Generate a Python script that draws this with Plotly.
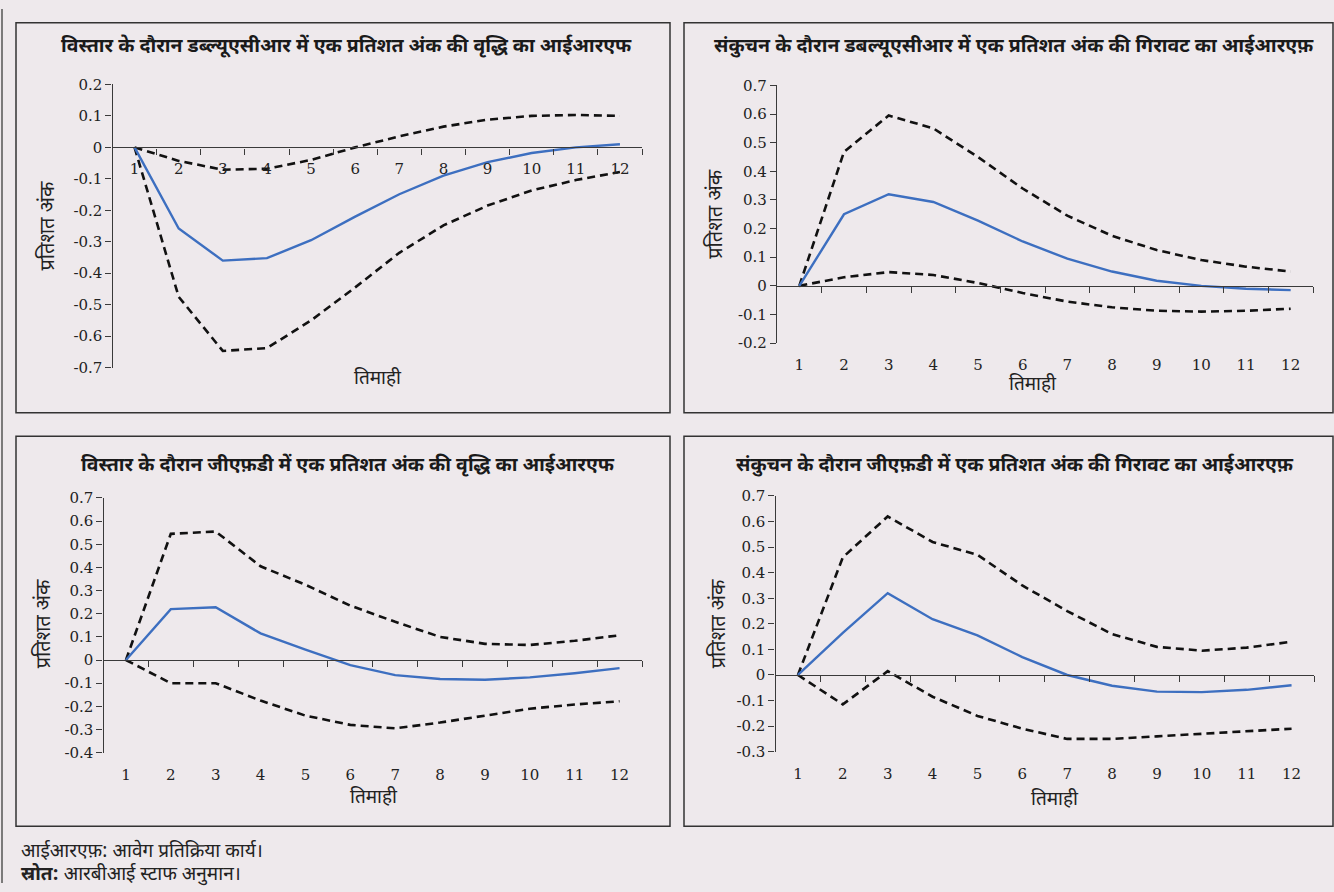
import plotly.graph_objects as go

# ---------------- data ----------------
quarters = list(range(1, 13))

wacr_exp_mid = [0, -0.258, -0.36, -0.352, -0.295, -0.22, -0.149, -0.09, -0.047, -0.018, 0.0, 0.01]
wacr_exp_upper = [0, -0.043, -0.071, -0.068, -0.04, 0.0, 0.035, 0.066, 0.088, 0.1, 0.103, 0.1]
wacr_exp_lower = [0, -0.475, -0.647, -0.638, -0.55, -0.445, -0.335, -0.248, -0.185, -0.137, -0.104, -0.078]

wacr_con_mid = [0, 0.25, 0.32, 0.293, 0.228, 0.155, 0.095, 0.05, 0.018, 0.0, -0.01, -0.015]
wacr_con_upper = [0, 0.468, 0.595, 0.55, 0.45, 0.34, 0.245, 0.175, 0.125, 0.09, 0.067, 0.05]
wacr_con_lower = [0, 0.03, 0.048, 0.038, 0.01, -0.025, -0.055, -0.075, -0.087, -0.09, -0.087, -0.08]

gfd_exp_mid = [0, 0.22, 0.228, 0.115, 0.045, -0.022, -0.065, -0.082, -0.085, -0.075, -0.057, -0.035]
gfd_exp_upper = [0, 0.545, 0.555, 0.405, 0.325, 0.235, 0.165, 0.1, 0.07, 0.065, 0.083, 0.107]
gfd_exp_lower = [0, -0.1, -0.1, -0.175, -0.24, -0.28, -0.295, -0.27, -0.24, -0.21, -0.192, -0.178]

gfd_con_mid = [0, 0.165, 0.32, 0.218, 0.155, 0.07, 0.0, -0.042, -0.065, -0.067, -0.058, -0.04]
gfd_con_upper = [0, 0.46, 0.62, 0.52, 0.47, 0.35, 0.25, 0.16, 0.11, 0.095, 0.107, 0.13]
gfd_con_lower = [0, -0.115, 0.015, -0.085, -0.16, -0.21, -0.25, -0.25, -0.24, -0.23, -0.22, -0.21]

titles = [
    "विस्तार के दौरान डब्ल्यूएसीआर में एक प्रतिशत अंक की वृद्धि का आईआरएफ",
    "संकुचन के दौरान डबल्यूएसीआर में एक प्रतिशत अंक की गिरावट का आईआरएफ़",
    "विस्तार के दौरान जीएफ़डी में एक प्रतिशत अंक की वृद्धि का आईआरएफ",
    "संकुचन के दौरान जीएफ़डी में एक प्रतिशत अंक की गिरावट का आईआरएफ़",
]
y_title = "प्रतिशत अंक"
x_title = "तिमाही"
y_ranges = [(-0.7, 0.2), (-0.2, 0.7), (-0.4, 0.7), (-0.3, 0.7)]
note_line = "आईआरएफ़: आवेग प्रतिक्रिया कार्य।"
source_label = "स्रोत:"
source_text = "आरबीआई स्टाफ अनुमान।"

series = [
    (wacr_exp_mid, wacr_exp_upper, wacr_exp_lower),
    (wacr_con_mid, wacr_con_upper, wacr_con_lower),
    (gfd_exp_mid, gfd_exp_upper, gfd_exp_lower),
    (gfd_con_mid, gfd_con_upper, gfd_con_lower),
]

# ---------------- layout geometry (pixels) ----------------
W, H = 1334, 892
BG = "#EEE9EC"
AXIS = "#3a3a3a"
BLUE = "#3D6FC0"
SERIF = "DejaVu Serif"
DEVA = "Noto Sans Devanagari, Noto Sans, sans-serif"

# plot area: left, right, top, bottom ; box: left, right, top, bottom
geom = [
    dict(plot=(112.5, 642, 77, 366), box=(16, 670, 14, 412), labels_at_zero=True,
         title=(346, 39), xt=(378, 378), yt=(49, 222)),
    dict(plot=(777, 1313, 78, 341), box=(684, 1333, 14, 412), labels_at_zero=False,
         title=(1014, 39), xt=(1033, 384), yt=(717, 210)),
    dict(plot=(103.5, 642, 499, 759), box=(16, 670, 436, 834), labels_at_zero=False,
         title=(348, 466), xt=(374, 806), yt=(44, 628)),
    dict(plot=(775.5, 1314, 497, 758), box=(684, 1333, 436, 834), labels_at_zero=False,
         title=(1015, 466), xt=(1055, 808), yt=(719, 628)),
]


def px_x(v):
    return v / W


def px_y(v):
    return 1 - v / H


def fmt(v):
    v = round(v, 1)
    if abs(v) < 1e-9:
        return "0"
    return f"{v:g}"


fig = go.Figure()
layout = {}
annotations = []
shapes = []

for i, (g, (mid, upper, lower), rng, title) in enumerate(zip(geom, series, y_ranges, titles), start=1):
    l, r, t, b = g["plot"]
    xd = [px_x(l), px_x(r)]
    yd = [px_y(b), px_y(t)]
    lo, hi = rng
    zero_frac = yd[0] + (0 - lo) / (hi - lo) * (yd[1] - yd[0])

    xa = f"x{i}"          # axis carrying the quarter labels
    xz = f"x{i + 4}"      # axis line drawn through zero, with boundary ticks
    ya = f"y{i}"

    for band in (upper, lower):
        fig.add_trace(go.Scatter(
            x=quarters, y=band, mode="lines", xaxis=xa, yaxis=ya,
            line=dict(color="#111111", width=2.6, dash="8px,5px"),
            showlegend=False, hoverinfo="skip"))
    fig.add_trace(go.Scatter(
        x=quarters, y=mid, mode="lines", xaxis=xz, yaxis=ya,
        line=dict(color=BLUE, width=2.4),
        showlegend=False, hoverinfo="skip"))

    n = int(round((hi - lo) / 0.1))
    yticks = [round(lo + k * 0.1, 1) for k in range(n + 1)]

    label_axis = dict(
        domain=xd, range=[0.5, 12.5], tickvals=quarters, ticktext=[str(q) for q in quarters],
        ticks="outside", ticklen=8, tickcolor="rgba(0,0,0,0)", showline=False,
        showgrid=False, zeroline=False, fixedrange=True,
        tickfont=dict(family=SERIF, size=15, color="#222222"),
    )
    if g["labels_at_zero"]:
        label_axis.update(anchor="free", position=zero_frac)
    else:
        label_axis.update(anchor=ya)
    layout[f"xaxis{i}"] = label_axis

    layout[f"xaxis{i + 4}"] = dict(
        domain=xd, range=[0.5, 12.5], overlaying=xa, anchor="free", position=zero_frac,
        tickvals=[q + 0.5 for q in quarters], ticks="outside", ticklen=6, tickwidth=1.2,
        tickcolor=AXIS, showticklabels=False, showline=True, linecolor=AXIS, linewidth=1.3,
        showgrid=False, zeroline=False, fixedrange=True,
    )
    layout[f"yaxis{i}"] = dict(
        domain=yd, range=[lo, hi], anchor=xa, tickvals=yticks, ticktext=[fmt(v) for v in yticks],
        ticks="outside", ticklen=6, tickwidth=1.2, tickcolor=AXIS, showline=True,
        linecolor=AXIS, linewidth=1.3, showgrid=False, zeroline=False, fixedrange=True,
        tickfont=dict(family=SERIF, size=15, color="#222222"),
    )

    bl, br, bt, bb = g["box"]
    shapes.append(dict(type="rect", xref="paper", yref="paper",
                       x0=px_x(bl), x1=px_x(br), y0=px_y(bb), y1=px_y(bt),
                       line=dict(color="#333333", width=1.5), fillcolor="rgba(0,0,0,0)"))

    tx, ty = g["title"]
    annotations.append(dict(text=f"<b>{title}</b>", x=px_x(tx), y=px_y(ty), xref="paper", yref="paper",
                            showarrow=False, xanchor="center", yanchor="middle",
                            font=dict(family=DEVA, size=19.5, color="#1a1a1a")))
    xx, xy = g["xt"]
    annotations.append(dict(text=x_title, x=px_x(xx), y=px_y(xy), xref="paper", yref="paper",
                            showarrow=False, xanchor="center", yanchor="middle",
                            font=dict(family=DEVA, size=19, color="#222222")))
    yx, yy = g["yt"]
    annotations.append(dict(text=y_title, x=px_x(yx), y=px_y(yy), xref="paper", yref="paper",
                            showarrow=False, xanchor="center", yanchor="middle", textangle=-90,
                            font=dict(family=DEVA, size=20, color="#222222")))

# outer frame edge on the left
shapes.append(dict(type="line", xref="paper", yref="paper", x0=px_x(2), x1=px_x(2), y0=0, y1=1,
                   line=dict(color="#555555", width=1.5)))

annotations.append(dict(text=note_line, x=px_x(19), y=px_y(876), xref="paper", yref="paper",
                        showarrow=False, xanchor="left", yanchor="bottom",
                        font=dict(family=DEVA, size=19, color="#222222")))
annotations.append(dict(text=f"<b>{source_label}</b> {source_text}", x=px_x(19), y=px_y(899),
                        xref="paper", yref="paper", showarrow=False, xanchor="left", yanchor="bottom",
                        font=dict(family=DEVA, size=19, color="#222222")))

fig.update_layout(
    width=W, height=H, margin=dict(l=0, r=0, t=0, b=0),
    paper_bgcolor=BG, plot_bgcolor=BG, showlegend=False,
    annotations=annotations, shapes=shapes, **layout,
)

fig.write_html("out.html", config={"displayModeBar": False})
